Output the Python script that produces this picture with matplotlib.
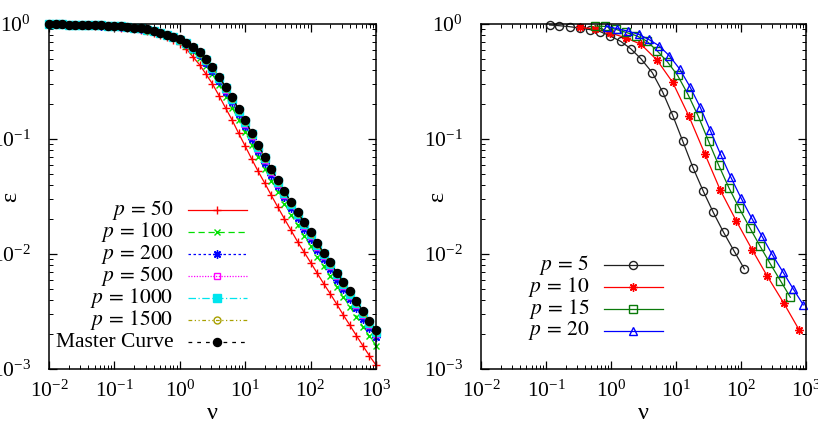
import numpy as np
import matplotlib
matplotlib.use('Agg')
import matplotlib.pyplot as plt
from matplotlib.ticker import LogLocator, NullFormatter

plt.rcParams['font.family'] = 'serif'
plt.rcParams['font.serif'] = ['Liberation Serif', 'DejaVu Serif']
plt.rcParams['mathtext.fontset'] = 'stix'

# ---- left panel: eps vs nu for large p, plus master curve ----
nu_left = [0.01, 0.0126, 0.0158, 0.02, 0.0251, 0.0316, 0.0398, 0.0501, 0.0631, 0.0794,
           0.1, 0.126, 0.158, 0.2, 0.251, 0.316, 0.398, 0.501, 0.631, 0.794,
           1.0, 1.26, 1.58, 2.0, 2.51, 3.16, 3.98, 5.01, 6.31, 7.94,
           10.0, 12.6, 15.8, 20.0, 25.1, 31.6, 39.8, 50.1, 63.1, 79.4,
           100.0, 126.0, 158.0, 200.0, 251.0, 316.0, 398.0, 501.0, 631.0, 794.0,
           1000.0]

eps_p50 = [0.997, 0.993, 0.991, 0.988, 0.984, 0.980, 0.974, 0.968, 0.961, 0.953,
           0.944, 0.932, 0.920, 0.905, 0.887, 0.866, 0.838, 0.805, 0.768, 0.726,
           0.674, 0.606, 0.520, 0.443, 0.367, 0.301, 0.238, 0.186, 0.146, 0.112,
           0.0867, 0.0668, 0.0522, 0.0411, 0.0323, 0.0255, 0.0202, 0.0161, 0.0128, 0.0104,
           0.00843, 0.00681, 0.00553, 0.00450, 0.00366, 0.00295, 0.00240, 0.00195, 0.00159, 0.00130,
           0.00108]
eps_p100 = [0.997, 0.993, 0.992, 0.989, 0.986, 0.981, 0.977, 0.973, 0.967, 0.961,
            0.953, 0.944, 0.934, 0.920, 0.903, 0.883, 0.855, 0.824, 0.791, 0.753,
            0.707, 0.649, 0.578, 0.507, 0.432, 0.364, 0.293, 0.234, 0.1875, 0.1461,
            0.1150, 0.0891, 0.0695, 0.0550, 0.0433, 0.0343, 0.0274, 0.0220, 0.0178, 0.0144,
            0.01175, 0.00946, 0.00779, 0.00638, 0.00519, 0.00425, 0.00348, 0.00286, 0.00233, 0.00192,
            0.00160]
eps_p200 = [0.997, 0.993, 0.992, 0.990, 0.987, 0.982, 0.979, 0.975, 0.970, 0.964,
            0.957, 0.949, 0.939, 0.926, 0.910, 0.889, 0.862, 0.832, 0.801, 0.765,
            0.721, 0.668, 0.605, 0.537, 0.462, 0.394, 0.320, 0.258, 0.208, 0.1635,
            0.1295, 0.1006, 0.0784, 0.0622, 0.0490, 0.0388, 0.0310, 0.0251, 0.0204, 0.0165,
            0.0135, 0.01086, 0.00898, 0.00738, 0.00600, 0.00495, 0.00407, 0.00336, 0.00274, 0.00226,
            0.00188]
eps_p500 = [0.997, 0.993, 0.992, 0.990, 0.987, 0.983, 0.980, 0.976, 0.971, 0.965,
            0.959, 0.951, 0.942, 0.929, 0.913, 0.892, 0.865, 0.836, 0.805, 0.770,
            0.727, 0.676, 0.616, 0.550, 0.476, 0.408, 0.332, 0.269, 0.218, 0.1716,
            0.1363, 0.1061, 0.0826, 0.0657, 0.0517, 0.0409, 0.0328, 0.0265, 0.0217, 0.0175,
            0.0143, 0.01154, 0.00956, 0.00787, 0.00639, 0.00528, 0.00435, 0.00360, 0.00294, 0.00242,
            0.00202]
eps_p1000 = [0.997, 0.993, 0.992, 0.990, 0.987, 0.983, 0.980, 0.977, 0.972, 0.966,
             0.960, 0.953, 0.943, 0.930, 0.915, 0.894, 0.867, 0.838, 0.807, 0.773,
             0.731, 0.681, 0.624, 0.559, 0.484, 0.416, 0.340, 0.276, 0.224, 0.1767,
             0.1406, 0.1095, 0.0852, 0.0678, 0.0534, 0.0422, 0.0339, 0.0274, 0.0225, 0.0181,
             0.01486, 0.01196, 0.00992, 0.00817, 0.00664, 0.00550, 0.00453, 0.00375, 0.00307, 0.00253,
             0.00211]
eps_p1500 = [0.997, 0.993, 0.992, 0.990, 0.987, 0.983, 0.980, 0.977, 0.972, 0.967,
             0.961, 0.954, 0.944, 0.931, 0.916, 0.895, 0.868, 0.839, 0.809, 0.774,
             0.733, 0.683, 0.627, 0.563, 0.489, 0.421, 0.344, 0.279, 0.227, 0.1794,
             0.1428, 0.1112, 0.0865, 0.0689, 0.0542, 0.0429, 0.0344, 0.0279, 0.0229, 0.0185,
             0.01513, 0.01218, 0.01011, 0.00833, 0.00677, 0.00561, 0.00463, 0.00383, 0.00313, 0.00258,
             0.00215]
eps_master = [0.997, 0.993, 0.992, 0.990, 0.987, 0.983, 0.980, 0.977, 0.972, 0.967,
              0.961, 0.954, 0.945, 0.932, 0.917, 0.896, 0.869, 0.840, 0.810, 0.776,
              0.735, 0.686, 0.631, 0.567, 0.493, 0.425, 0.348, 0.283, 0.230, 0.182,
              0.145, 0.113, 0.0879, 0.0700, 0.0551, 0.0436, 0.0350, 0.0284, 0.0233, 0.0188,
              0.0154, 0.0124, 0.0103, 0.00849, 0.00690, 0.00572, 0.00472, 0.00391, 0.00320, 0.00264,
              0.00220]

# ---- right panel: eps vs nu for small p ----
nu_p5 = [0.114, 0.160, 0.231, 0.330, 0.481, 0.686, 0.977, 1.41, 2.01, 2.89,
         4.33, 6.24, 8.89, 12.7, 18.3, 26.4, 37.5, 54.1, 78.0, 112.5]
eps_p5 = [0.980, 0.967, 0.948, 0.923, 0.893, 0.858, 0.786, 0.707, 0.610, 0.499,
          0.377, 0.256, 0.161, 0.0959, 0.0562, 0.0350, 0.0230, 0.0154, 0.01065, 0.00743]
nu_p10 = [0.330, 0.568, 0.977, 1.68, 2.90, 5.10, 8.89, 15.8, 27.9, 48.1,
          84.7, 148.0, 254.0, 453.0, 780.0]
eps_p10 = [0.935, 0.905, 0.835, 0.760, 0.665, 0.486, 0.311, 0.158, 0.0739, 0.0359,
           0.0194, 0.01094, 0.00641, 0.00376, 0.00220]
nu_p15 = [0.568, 0.818, 1.18, 1.70, 2.45, 3.54, 5.10, 7.36, 10.6, 15.3,
          22.1, 31.8, 45.3, 65.3, 94.2, 136.0, 194.0, 279.0, 403.0, 574.0]
eps_p15 = [0.961, 0.953, 0.899, 0.846, 0.792, 0.711, 0.586, 0.470, 0.357, 0.244,
           0.157, 0.0953, 0.0593, 0.0376, 0.0249, 0.0170, 0.01185, 0.00831, 0.00588, 0.00421]
nu_p20 = [0.879, 1.25, 1.80, 2.67, 3.79, 5.47, 7.89, 11.4, 16.4, 23.7,
          33.7, 48.6, 70.1, 101.0, 146.0, 210.0, 300.0, 438.0, 631.0, 910.0]
eps_p20 = [0.951, 0.911, 0.869, 0.813, 0.735, 0.648, 0.530, 0.406, 0.285, 0.188,
           0.1187, 0.0734, 0.0463, 0.0304, 0.0205, 0.01429, 0.00996, 0.00704, 0.00501, 0.00361]

STAR = (8, 2, 0)
FS = 15.5
KEY_FS = 15.5

left_series = [
    (r'$p\,=\,50$', eps_p50, dict(color='#ff0000', ls='-', marker='+', ms=6)),
    (r'$p\,=\,100$', eps_p100, dict(color='#00e000', ls=(0, (5, 3)), marker='x', ms=5)),
    (r'$p\,=\,200$', eps_p200, dict(color='#0000ff', ls=(0, (2, 2)), marker=STAR, ms=6)),
    (r'$p\,=\,500$', eps_p500, dict(color='#ff00ff', ls=(0, (1, 1.2)), marker='s', ms=5, mfc='none')),
    (r'$p\,=\,1000$', eps_p1000, dict(color='#00e5ee', ls=(0, (6, 2, 1, 2)), marker='s', ms=5.5)),
    (r'$p\,=\,1500$', eps_p1500, dict(color='#a8a000', ls=(0, (3, 2, 1, 2, 1, 2)), marker='o', ms=5, mfc='none')),
    ('Master Curve', eps_master, dict(color='black', ls=(0, (3, 4)), marker='o', ms=5.8)),
]

right_series = [
    (r'$p\,=\,5$', nu_p5, eps_p5, dict(color='#202020', marker='o', ms=5.8, mfc='none')),
    (r'$p\,=\,10$', nu_p10, eps_p10, dict(color='#ff0000', marker=STAR, ms=6, mew=1.0)),
    (r'$p\,=\,15$', nu_p15, eps_p15, dict(color='#0a7a0a', marker='s', ms=5.5, mfc='none')),
    (r'$p\,=\,20$', nu_p20, eps_p20, dict(color='#0000ff', marker='^', ms=6, mfc='none')),
]


def style_axes(ax, ylab_x):
    ax.set_xscale('log')
    ax.set_yscale('log')
    ax.set_xlim(1e-2, 1e3)
    ax.set_ylim(1e-3, 1e0)
    for axis in (ax.xaxis, ax.yaxis):
        axis.set_major_locator(LogLocator(base=10, numticks=10))
        axis.set_minor_locator(LogLocator(base=10, subs=np.arange(2, 10), numticks=10))
        axis.set_minor_formatter(NullFormatter())
    ax.tick_params(which='both', direction='in', top=True, right=True, labelsize=FS)
    ax.tick_params(which='major', length=6, width=0.9)
    ax.tick_params(which='minor', length=3, width=0.7)
    ax.tick_params(axis='y', pad=13)
    ax.tick_params(axis='x', pad=8)
    for s in ax.spines.values():
        s.set_linewidth(1.1)
    ax.set_xlabel('ν', fontsize=FS + 2)
    ax.set_ylabel('ε', fontsize=FS + 2)
    ax.xaxis.set_label_coords(0.5, -0.098)
    ax.yaxis.set_label_coords(ylab_x, 0.5)


def key(ax, rows, xt, x0, x1, y0, dy):
    # gnuplot style key: right aligned text, then a line sample with marker
    for i, (label, kw) in enumerate(rows):
        y = y0 - i * dy
        ax.text(xt, y, label, transform=ax.transAxes, ha='right', va='center', fontsize=KEY_FS)
        ax.plot([x0, (x0 + x1) / 2, x1], [y, y, y], transform=ax.transAxes,
                markevery=[1], clip_on=False, lw=0.9, **kw)


fig = plt.figure(figsize=(8.18, 4.22), dpi=100)
ax1 = fig.add_axes([0.0599, 0.1256, 0.3998, 0.8175])
ax2 = fig.add_axes([0.5880, 0.1256, 0.3973, 0.8175])

for label, eps, kw in left_series:
    ax1.plot(nu_left, eps, lw=0.9, clip_on=False, **kw)
style_axes(ax1, -0.085)
key(ax1, [(lab, kw) for lab, _, kw in left_series], 0.380, 0.424, 0.605, 0.461, 0.0640)

for label, nu, eps, kw in right_series:
    ax2.plot(nu, eps, lw=0.9, clip_on=False, **kw)
style_axes(ax2, -0.10)
key(ax2, [(lab, kw) for lab, _, _, kw in right_series], 0.333, 0.378, 0.559, 0.301, 0.0634)

fig.savefig('out.png', dpi=100)
